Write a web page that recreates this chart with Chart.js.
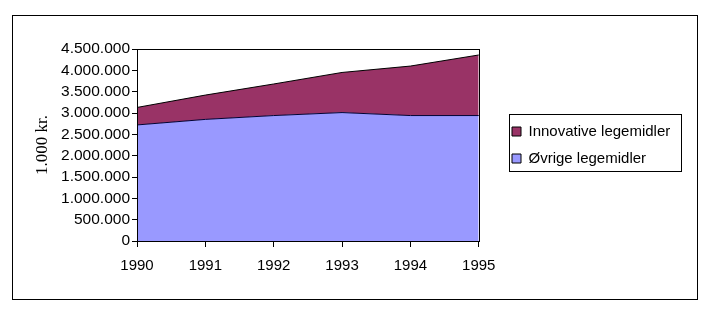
<!DOCTYPE html>
<html>
<head>
<meta charset="utf-8">
<script src="https://cdn.jsdelivr.net/npm/chart.js@4/dist/chart.umd.min.js"></script>
<style>
  body { margin: 0; background: #fff; }
  #wrap { width: 709px; height: 316px; }
</style>
</head>
<body>
<div id="wrap"><canvas id="myChart" width="709" height="316"></canvas></div>
<script>
// Data (1.000 kr.)
const years = ['1990', '1991', '1992', '1993', '1994', '1995'];
const ovrige = [2720000, 2850000, 2940000, 3010000, 2940000, 2940000];
const innovative = [410000, 570000, 740000, 940000, 1160000, 1420000];
const yTicks = [0, 500000, 1000000, 1500000, 2000000, 2500000, 3000000, 3500000, 4000000, 4500000];

function fmt(v) {
  return String(v).replace(/\B(?=(\d{3})+(?!\d))/g, '.');
}

// frame round the whole chart, box round plot area and legend
const framePlugin = {
  id: 'frame',
  beforeDraw(chart) {
    const c = chart.ctx;
    c.save();
    c.fillStyle = '#fff';
    c.fillRect(0, 0, chart.width, chart.height);
    c.strokeStyle = '#000';
    c.lineWidth = 1;
    c.strokeRect(12.5, 15.5, 685, 284);
    c.restore();
  },
  afterLayout(chart) {
    // move the legend a bit away from the plot and centre it on the plot
    const l = chart.legend;
    const a = chart.chartArea;
    l.left = 500;
    l.right = l.left + l.width;
    l.top = a.top;
    l.bottom = a.bottom;
    l.height = a.bottom - a.top;
  },
  afterDraw(chart) {
    const a = chart.chartArea;
    const c = chart.ctx;
    c.save();
    c.strokeStyle = '#000';
    c.lineWidth = 1;
    c.strokeRect(Math.round(a.left) + 0.5, Math.round(a.top) + 0.5, Math.round(a.right - a.left), Math.round(a.bottom - a.top));
    // legend box
    const hb = chart.legend.legendHitBoxes;
    if (hb && hb.length) {
      let x0 = Infinity, y0 = Infinity, x1 = -Infinity, y1 = -Infinity;
      hb.forEach(b => {
        x0 = Math.min(x0, b.left); y0 = Math.min(y0, b.top);
        x1 = Math.max(x1, b.left + b.width); y1 = Math.max(y1, b.top + b.height);
      });
      x0 = Math.round(x0 - 3); y0 = Math.round(y0 - 10);
      x1 = Math.round(x1 + 11); y1 = Math.round(y1 + 5);
      c.strokeRect(x0 + 0.5, y0 + 0.5, x1 - x0, y1 - y0);
    }
    c.restore();
  }
};

let myChart = document.getElementById('myChart').getContext('2d');

let areaChart = new Chart(myChart, {
  type: 'line',
  data: {
    labels: years,
    datasets: [{
      label: 'Øvrige legemidler',
      data: ovrige,
      backgroundColor: '#9999FF',
      borderColor: '#000033',
      borderWidth: 1,
      fill: 'origin',
      pointRadius: 0,
      tension: 0
    }, {
      label: 'Innovative legemidler',
      data: innovative,
      backgroundColor: '#993366',
      borderColor: '#000000',
      borderWidth: 1,
      fill: '-1',
      pointRadius: 0,
      tension: 0
    }]
  },
  options: {
    responsive: false,
    animation: false,
    layout: { padding: { top: 49, left: 32, bottom: 20, right: 50 } },
    plugins: {
      legend: {
        position: 'right',
        reverse: true,
        maxWidth: 300,
        labels: {
          boxWidth: 9,
          boxHeight: 9,
          padding: 12,
          color: '#000',
          font: { family: 'Liberation Sans', size: 15 },
          generateLabels(chart) {
            return chart.data.datasets.map((d, i) => ({
              text: d.label,
              fillStyle: d.backgroundColor,
              strokeStyle: '#000',
              lineWidth: 1,
              datasetIndex: i,
              hidden: false
            }));
          }
        }
      },
      tooltip: { enabled: false }
    },
    scales: {
      x: {
        offset: false,
        afterFit(s) { s.height = 55; },
        grid: { display: true, drawOnChartArea: false, color: '#000', tickLength: 6 },
        border: { color: '#000' },
        ticks: { color: '#000', padding: 10, maxRotation: 0, font: { family: 'Liberation Sans', size: 15 } }
      },
      y: {
        stacked: true,
        min: 0,
        max: 4500000,
        afterFit(s) { s.width = 137 - 32; },
        afterBuildTicks(s) { s.ticks = yTicks.map(v => ({ value: v })); },
        grid: { display: true, drawOnChartArea: false, color: '#000', tickLength: 5 },
        border: { color: '#000' },
        ticks: {
          color: '#000',
          padding: 2,
          autoSkip: false,
          font: { family: 'Liberation Sans', size: 15.5 },
          callback: v => fmt(v)
        },
        title: {
          display: true,
          text: '1.000 kr.',
          color: '#000',
          padding: 0,
          font: { family: 'Liberation Serif', size: 17 }
        }
      }
    }
  },
  plugins: [framePlugin]
});
</script>
</body>
</html>
